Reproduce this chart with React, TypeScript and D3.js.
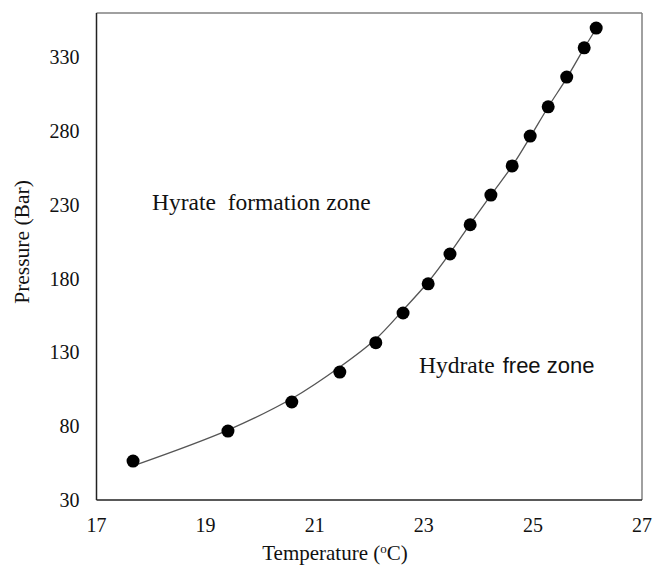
import React from "react";
import * as d3 from "d3";

const temperatures = [17.67, 19.41, 20.58, 21.46, 22.12, 22.62, 23.08, 23.48, 23.85, 24.23, 24.62, 24.95, 25.28, 25.62, 25.94, 26.16];
const pressures = [56.4, 76.7, 96.4, 116.7, 136.6, 156.7, 176.5, 196.7, 216.5, 236.6, 256.4, 276.6, 296.4, 316.6, 336.4, 349.8];

const curveT = [17.71, 19.41, 20.6, 21.46, 22.12, 22.62, 23.08, 23.48, 23.85, 24.23, 24.62, 24.95, 25.28, 25.62, 25.94, 26.18];
const curveP = [53.7, 77.4, 99.1, 120.1, 139.1, 158.7, 177.7, 197.3, 217.0, 236.6, 256.3, 275.9, 296.3, 315.9, 336.2, 350.5];

const xTicks = [17, 19, 21, 23, 25, 27];
const yTicks = [30, 80, 130, 180, 230, 280, 330];

const W = 653;
const H = 565;
const L = 96.5, R = 642, T = 13, B = 500;

export default function App() {
  const x = d3.scaleLinear().domain([17, 27]).range([L, R]);
  const y = d3.scaleLinear().domain([30, 360]).range([B, T]);
  const line = d3
    .line<number>()
    .x((_, i) => x(curveT[i]))
    .y((d) => y(d))
    .curve(d3.curveCatmullRom.alpha(0.5));
  const serif = "'Liberation Serif', 'Times New Roman', serif";
  const sans = "'Liberation Sans', Arial, sans-serif";
  return (
    <svg width={W} height={H} style={{ position: "absolute", left: 0, top: 0, background: "#fff" }}>
      <rect x={0} y={0} width={W} height={H} fill="#fff" />
      {/* frame */}
      <line x1={L} y1={T} x2={R} y2={T} stroke="#808080" strokeWidth={1.5} />
      <line x1={R} y1={T} x2={R} y2={B} stroke="#808080" strokeWidth={1.5} />
      <line x1={L} y1={T} x2={L} y2={B} stroke="#222" strokeWidth={1.5} />
      <line x1={L} y1={B} x2={R} y2={B} stroke="#222" strokeWidth={1.5} />
      {/* trend curve */}
      <path d={line(curveP) || ""} fill="none" stroke="#555" strokeWidth={1.3} />
      {/* points */}
      {temperatures.map((t, i) => (
        <circle key={i} cx={x(t)} cy={y(pressures[i])} r={6.5} fill="#000" />
      ))}
      {/* tick labels */}
      {xTicks.map((t) => (
        <text key={t} x={x(t)} y={532} textAnchor="middle" fontFamily={serif} fontSize={20} fill="#111">
          {t}
        </text>
      ))}
      {yTicks.map((t) => (
        <text key={t} x={79.5} y={y(t) + 7} textAnchor="end" fontFamily={serif} fontSize={20} fill="#111">
          {t}
        </text>
      ))}
      {/* axis titles */}
      <text x={335} y={560} textAnchor="middle" fontFamily={serif} fontSize={21} fill="#111">
        Temperature (<tspan fontSize={13} dy={-7}>o</tspan>
        <tspan dy={7}>C)</tspan>
      </text>
      <text
        transform={`translate(29, 242) rotate(-90)`}
        textAnchor="middle"
        fontFamily={serif}
        fontSize={21.5}
        fill="#111"
      >
        Pressure (Bar)
      </text>
      {/* zone labels */}
      <text x={152} y={210} fontFamily={serif} fontSize={23.5} fill="#111" xmlSpace="preserve">
        Hyrate  formation zone
      </text>
      <text x={419} y={373} fill="#111">
        <tspan fontFamily={serif} fontSize={23.5}>Hydrate</tspan>
        <tspan fontFamily={sans} fontSize={22} dx={8}>free zone</tspan>
      </text>
    </svg>
  );
}
